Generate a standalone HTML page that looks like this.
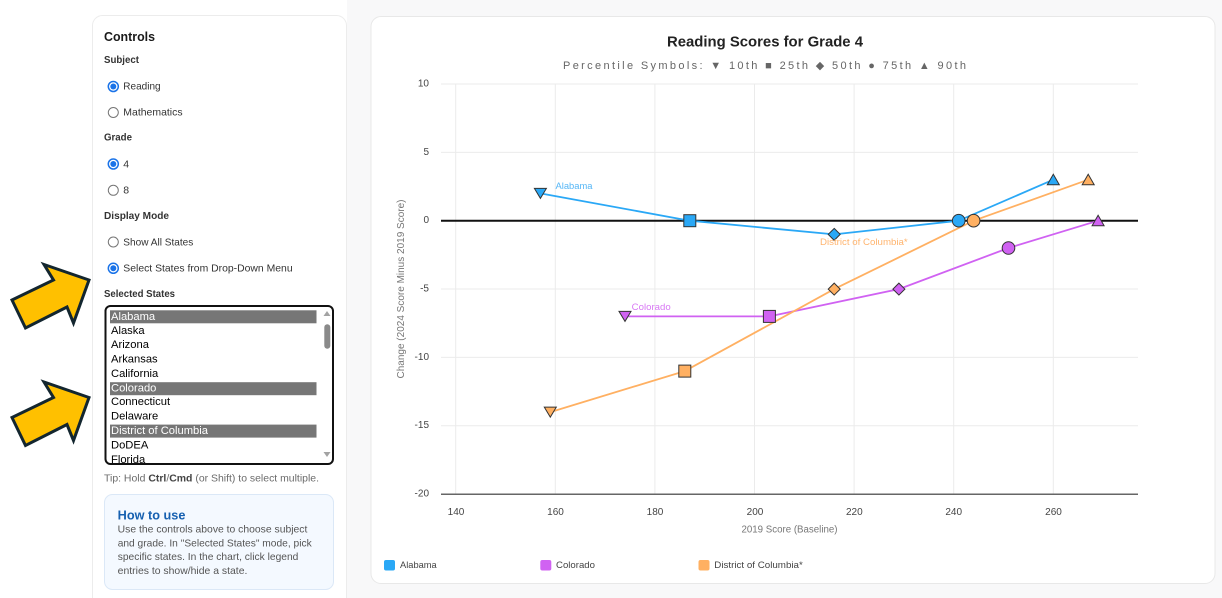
<!DOCTYPE html>
<html>
<head>
<meta charset="utf-8">
<style>
  html,body{margin:0;padding:0;background:#ffffff;}
  body{width:1222px;height:598px;overflow:hidden;}
  svg{display:block;}
  text{font-family:"Liberation Sans", Arial, sans-serif;}
</style>
</head>
<body>
<svg width="1222" height="598" viewBox="0 0 1222 598" xmlns="http://www.w3.org/2000/svg">
  <!-- backgrounds -->
  <rect x="0" y="0" width="1222" height="598" fill="#ffffff"/>
  <rect x="347" y="0" width="875" height="598" fill="#f8f8f9"/>

  <!-- Left controls panel -->
  <rect x="92.5" y="15.5" width="254" height="600" rx="10" fill="#ffffff" stroke="#ececec"/>
  <text x="104" y="37" dominant-baseline="central" font-size="12.5" font-weight="bold" fill="#1a1a1a" textLength="51" lengthAdjust="spacingAndGlyphs">Controls</text>
  <text x="104" y="60" dominant-baseline="central" font-size="10.5" font-weight="bold" fill="#333" textLength="35" lengthAdjust="spacingAndGlyphs">Subject</text>

  <!-- radios -->
  <g>
    <circle cx="113.3" cy="86.5" r="5" fill="#ffffff" stroke="#1a73e8" stroke-width="1.5"/>
    <circle cx="113.3" cy="86.5" r="3" fill="#1a73e8"/>
    <text x="123.3" y="86.7" dominant-baseline="central" font-size="10.5" fill="#333" textLength="37.3" lengthAdjust="spacingAndGlyphs">Reading</text>

    <circle cx="113.3" cy="112.5" r="5" fill="#ffffff" stroke="#767676" stroke-width="1"/>
    <text x="123.3" y="112.7" dominant-baseline="central" font-size="10.5" fill="#333" textLength="59.3" lengthAdjust="spacingAndGlyphs">Mathematics</text>

    <text x="104" y="137.7" dominant-baseline="central" font-size="10.5" font-weight="bold" fill="#333" textLength="28" lengthAdjust="spacingAndGlyphs">Grade</text>

    <circle cx="113.3" cy="164" r="5" fill="#ffffff" stroke="#1a73e8" stroke-width="1.5"/>
    <circle cx="113.3" cy="164" r="3" fill="#1a73e8"/>
    <text x="123.3" y="164.3" dominant-baseline="central" font-size="10.5" fill="#333">4</text>

    <circle cx="113.3" cy="190.3" r="5" fill="#ffffff" stroke="#767676" stroke-width="1"/>
    <text x="123.3" y="190.7" dominant-baseline="central" font-size="10.5" fill="#333">8</text>

    <text x="104" y="216" dominant-baseline="central" font-size="10.5" font-weight="bold" fill="#333" textLength="65" lengthAdjust="spacingAndGlyphs">Display Mode</text>

    <circle cx="113.3" cy="242" r="5" fill="#ffffff" stroke="#767676" stroke-width="1"/>
    <text x="123.3" y="242.3" dominant-baseline="central" font-size="10.5" fill="#333" textLength="70" lengthAdjust="spacingAndGlyphs">Show All States</text>

    <circle cx="113.3" cy="268.3" r="5" fill="#ffffff" stroke="#1a73e8" stroke-width="1.5"/>
    <circle cx="113.3" cy="268.3" r="3" fill="#1a73e8"/>
    <text x="123.3" y="268.7" dominant-baseline="central" font-size="10.5" fill="#333" textLength="169.3" lengthAdjust="spacingAndGlyphs">Select States from Drop-Down Menu</text>

    <text x="104" y="294" dominant-baseline="central" font-size="10.5" font-weight="bold" fill="#333" textLength="71" lengthAdjust="spacingAndGlyphs">Selected States</text>
  </g>

  <!-- listbox -->
  <defs>
    <clipPath id="lbclip"><rect x="106" y="307" width="226" height="156" rx="4"/></clipPath>
  </defs>
  <rect x="105.5" y="306" width="227.5" height="158" rx="5" fill="#ffffff" stroke="#111" stroke-width="2"/>
  <g clip-path="url(#lbclip)" font-size="11.2">
    <rect x="110" y="310.3" width="206.5" height="13" fill="#767676"/>
    <rect x="110" y="382.2" width="206.5" height="13" fill="#767676"/>
    <rect x="110" y="424.6" width="206.5" height="13" fill="#767676"/>
    <text x="111" y="316.9" dominant-baseline="central" fill="#ffffff">Alabama</text>
    <text x="111" y="330.9" dominant-baseline="central" fill="#000">Alaska</text>
    <text x="111" y="345.2" dominant-baseline="central" fill="#000">Arizona</text>
    <text x="111" y="359.6" dominant-baseline="central" fill="#000">Arkansas</text>
    <text x="111" y="373.9" dominant-baseline="central" fill="#000">California</text>
    <text x="111" y="388.5" dominant-baseline="central" fill="#ffffff">Colorado</text>
    <text x="111" y="402.2" dominant-baseline="central" fill="#000">Connecticut</text>
    <text x="111" y="416.7" dominant-baseline="central" fill="#000">Delaware</text>
    <text x="111" y="431" dominant-baseline="central" fill="#ffffff">District of Columbia</text>
    <text x="111" y="445.5" dominant-baseline="central" fill="#000">DoDEA</text>
    <text x="111" y="460" dominant-baseline="central" fill="#000">Florida</text>
    <!-- scrollbar -->
    <polygon points="323.5,316 330.5,316 327,311" fill="#a3a3a3"/>
    <rect x="324.3" y="324.3" width="6" height="24.4" rx="3" fill="#8a8a8a"/>
    <polygon points="323.5,452 330.5,452 327,457" fill="#a3a3a3"/>
  </g>

  <text x="104" y="478.3" dominant-baseline="central" font-size="10.5" fill="#6b6b6b" textLength="215" lengthAdjust="spacingAndGlyphs">Tip: Hold <tspan font-weight="bold" fill="#444">Ctrl</tspan>/<tspan font-weight="bold" fill="#444">Cmd</tspan> (or Shift) to select multiple.</text>

  <!-- How to use box -->
  <rect x="104.5" y="494.5" width="229" height="95" rx="8" fill="#f4f9ff" stroke="#dbe8f7"/>
  <text x="117.7" y="515.3" dominant-baseline="central" font-size="12.5" font-weight="bold" fill="#1660b0" textLength="67.7" lengthAdjust="spacingAndGlyphs">How to use</text>
  <text x="117.7" y="530" dominant-baseline="central" font-size="10.3" fill="#555" textLength="189.7" lengthAdjust="spacingAndGlyphs">Use the controls above to choose subject</text>
  <text x="117.7" y="544" dominant-baseline="central" font-size="10.3" fill="#555" textLength="194" lengthAdjust="spacingAndGlyphs">and grade. In "Selected States" mode, pick</text>
  <text x="117.7" y="557.7" dominant-baseline="central" font-size="10.3" fill="#555" textLength="180.7" lengthAdjust="spacingAndGlyphs">specific states. In the chart, click legend</text>
  <text x="117.7" y="571.3" dominant-baseline="central" font-size="10.3" fill="#555" textLength="129.7" lengthAdjust="spacingAndGlyphs">entries to show/hide a state.</text>

  <!-- Arrows -->
  <polygon points="12,300 53.5,280 44,264.5 89,280 73.5,323 67,307 25.5,328" fill="#ffc000" stroke="#13262f" stroke-width="3" stroke-linejoin="miter"/>
  <polygon points="12,417.5 53.5,397.5 44,382 89,397.5 73.5,440.5 67,424.5 25.5,445.5" fill="#ffc000" stroke="#13262f" stroke-width="3" stroke-linejoin="miter"/>

  <!-- Chart card -->
  <rect x="371" y="16.5" width="844" height="567" rx="10" fill="#ffffff" stroke="#e8e8e8"/>

  <text x="765" y="42.3" dominant-baseline="central" text-anchor="middle" font-size="14.5" font-weight="bold" fill="#222" textLength="196" lengthAdjust="spacingAndGlyphs">Reading Scores for Grade 4</text>
  <text x="563" y="66" dominant-baseline="central" font-size="11" fill="#666" textLength="403" lengthAdjust="spacing" font-family="'Liberation Sans','DejaVu Sans',sans-serif">Percentile Symbols: ▼ 10th ■ 25th ◆ 50th ● 75th ▲ 90th</text>

  <!-- gridlines -->
  <g stroke="#ebebeb" stroke-width="1">
    <line x1="441" y1="84" x2="1138" y2="84"/>
    <line x1="441" y1="152.4" x2="1138" y2="152.4"/>
    <line x1="441" y1="289" x2="1138" y2="289"/>
    <line x1="441" y1="357.4" x2="1138" y2="357.4"/>
    <line x1="441" y1="425.7" x2="1138" y2="425.7"/>
    <line x1="455.7" y1="84" x2="455.7" y2="494"/>
    <line x1="555.3" y1="84" x2="555.3" y2="494"/>
    <line x1="654.9" y1="84" x2="654.9" y2="494"/>
    <line x1="754.5" y1="84" x2="754.5" y2="494"/>
    <line x1="854.1" y1="84" x2="854.1" y2="494"/>
    <line x1="953.7" y1="84" x2="953.7" y2="494"/>
    <line x1="1053.3" y1="84" x2="1053.3" y2="494"/>
  </g>
  <line x1="441" y1="494.2" x2="1138" y2="494.2" stroke="#666" stroke-width="1.5"/>
  <line x1="441" y1="220.7" x2="1138" y2="220.7" stroke="#111" stroke-width="2"/>

  <!-- y tick labels -->
  <g font-size="10" fill="#444" text-anchor="end">
    <text x="429" y="84" dominant-baseline="central">10</text>
    <text x="429" y="152.4" dominant-baseline="central">5</text>
    <text x="429" y="220.7" dominant-baseline="central">0</text>
    <text x="429" y="289" dominant-baseline="central">-5</text>
    <text x="429" y="357.4" dominant-baseline="central">-10</text>
    <text x="429" y="425.7" dominant-baseline="central">-15</text>
    <text x="429" y="494" dominant-baseline="central">-20</text>
  </g>
  <!-- x tick labels -->
  <g font-size="10" fill="#444" text-anchor="middle">
    <text x="456" y="512.5" dominant-baseline="central">140</text>
    <text x="555.5" y="512.5" dominant-baseline="central">160</text>
    <text x="655" y="512.5" dominant-baseline="central">180</text>
    <text x="755" y="512.5" dominant-baseline="central">200</text>
    <text x="854.3" y="512.5" dominant-baseline="central">220</text>
    <text x="953.7" y="512.5" dominant-baseline="central">240</text>
    <text x="1053.5" y="512.5" dominant-baseline="central">260</text>
  </g>
  <text x="789.5" y="530" dominant-baseline="central" text-anchor="middle" font-size="10" fill="#777" textLength="96" lengthAdjust="spacingAndGlyphs">2019 Score (Baseline)</text>
  <text transform="translate(401.7,289) rotate(-90)" x="0" y="0" dominant-baseline="central" text-anchor="middle" font-size="10" fill="#777">Change (2024 Score Minus 2019 Score)</text>

  <!-- Series lines -->
  <g fill="none" stroke-width="1.8" stroke-linejoin="round">
    <polyline points="540.4,193.4 689.8,220.7 834.2,234.4 958.7,220.7 1053.3,179.7" stroke="#2aa8f6"/>
    <polyline points="625,316.4 769.4,316.4 898.9,289.1 1008.5,248 1098.1,220.7" stroke="#d062f2"/>
    <polyline points="550.3,412.1 684.8,371.1 834.2,289.1 973.6,220.7 1088.2,179.7" stroke="#ffb062"/>
  </g>

  <!-- Markers -->
  <g stroke="#333" stroke-width="1">
    <!-- Alabama -->
    <polygon points="534.4,188.4 546.4,188.4 540.4,198.4" fill="#2aa8f6"/>
    <rect x="683.8" y="214.7" width="12" height="12" fill="#2aa8f6"/>
    <polygon points="834.2,228.4 840.2,234.4 834.2,240.4 828.2,234.4" fill="#2aa8f6"/>
    <circle cx="958.7" cy="220.7" r="6.3" fill="#2aa8f6"/>
    <polygon points="1047.3,184.7 1059.3,184.7 1053.3,174.2" fill="#2aa8f6"/>
    <!-- Colorado -->
    <polygon points="619,311.4 631,311.4 625,321.4" fill="#d062f2"/>
    <rect x="763.4" y="310.4" width="12" height="12" fill="#d062f2"/>
    <polygon points="898.9,283.1 904.9,289.1 898.9,295.1 892.9,289.1" fill="#d062f2"/>
    <circle cx="1008.5" cy="248" r="6.3" fill="#d062f2"/>
    <polygon points="1092.1,225.7 1104.1,225.7 1098.1,215.2" fill="#d062f2"/>
    <!-- DC -->
    <polygon points="544.3,407.1 556.3,407.1 550.3,417.1" fill="#ffb062"/>
    <rect x="678.8" y="365.1" width="12" height="12" fill="#ffb062"/>
    <polygon points="834.2,283.1 840.2,289.1 834.2,295.1 828.2,289.1" fill="#ffb062"/>
    <circle cx="973.6" cy="220.7" r="6.3" fill="#ffb062"/>
    <polygon points="1082.2,184.7 1094.2,184.7 1088.2,174.2" fill="#ffb062"/>
  </g>

  <!-- Series labels -->
  <text x="555.5" y="186.7" dominant-baseline="central" font-size="9.5" fill="#55b6f6" textLength="37" lengthAdjust="spacingAndGlyphs">Alabama</text>
  <text x="631.7" y="307.7" dominant-baseline="central" font-size="9.5" fill="#d878f4" textLength="39" lengthAdjust="spacingAndGlyphs">Colorado</text>
  <text x="820" y="242.3" dominant-baseline="central" font-size="9.5" fill="#ffb46e" textLength="87.7" lengthAdjust="spacingAndGlyphs">District of Columbia*</text>

  <!-- Legend -->
  <rect x="384" y="560" width="11" height="10.5" rx="2" fill="#2aa8f6"/>
  <text x="400" y="565.5" dominant-baseline="central" font-size="9.5" fill="#444" textLength="36.7" lengthAdjust="spacingAndGlyphs">Alabama</text>
  <rect x="540.3" y="560" width="11" height="10.5" rx="2" fill="#d062f2"/>
  <text x="556" y="565.5" dominant-baseline="central" font-size="9.5" fill="#444" textLength="39" lengthAdjust="spacingAndGlyphs">Colorado</text>
  <rect x="698.5" y="560" width="11" height="10.5" rx="2" fill="#ffb062"/>
  <text x="714.3" y="565.5" dominant-baseline="central" font-size="9.5" fill="#444" textLength="88.5" lengthAdjust="spacingAndGlyphs">District of Columbia*</text>
</svg>
</body>
</html>
